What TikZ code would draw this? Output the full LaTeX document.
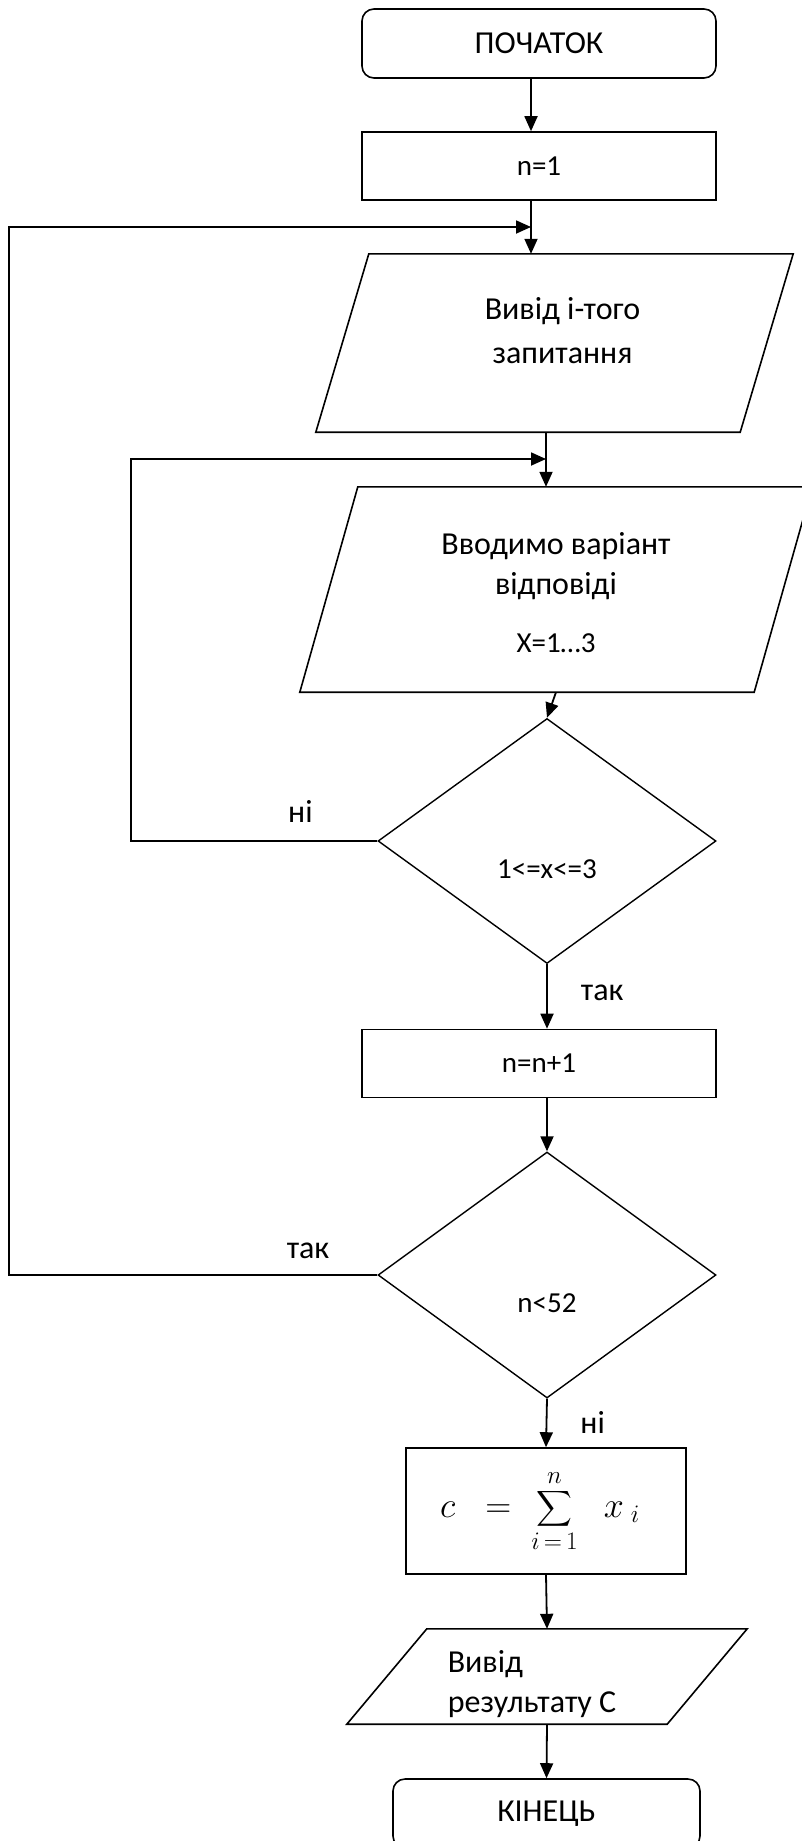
\RequirePackage{fix-cm}
\documentclass[tikz,border=0pt]{standalone}
\usepackage{exscale}
\usepackage[no-math]{fontspec}
\setmainfont{Carlito}
\usetikzlibrary{arrows.meta,shapes.geometric}

\begin{document}
\begin{tikzpicture}[x=1pt, y=-1pt,
        every node/.style={font=\fontsize{29}{36}\selectfont},
        cyr/.style={font=\fontsize{32}{40}\selectfont},
        term/.style={draw, rounded corners=12pt, line width=1.6pt,
            minimum width=354pt, minimum height=69pt, cyr},
        proc/.style={draw, line width=1.6pt, minimum width=354pt,
            minimum height=68pt},
        io/.style={inner sep=0pt, cyr},
        ioline/.style={line width=1.6pt, line join=miter},
        cond/.style={draw, diamond, line width=1.4pt, minimum width=338pt,
            minimum height=245pt, inner sep=0pt},
        flow/.style={line width=1.8pt, -{Triangle[length=15pt,width=13pt]}},
        lbl/.style={inner sep=3pt, cyr}]

\useasboundingbox (0,0) rectangle (801,1841);

\coordinate (j1) at (531,227);
\coordinate (j2) at (546,459);
\coordinate (lp1) at (131,459);
\coordinate (lp2) at (9,227);

\node[term] (start) at (539,43.5) {ПОЧАТОК};
\node[proc] (n1) at (539,166) {n=1};
\node[io, minimum width=424pt, minimum height=178pt] (p1) at (554.5,343)
    {\hspace*{16pt}\raisebox{10pt}[\height][\depth]{\begin{tabular}{@{}c@{}}Вивід і-того\\[4pt] запитання\end{tabular}}};
\node[io, minimum width=454pt, minimum height=205pt] (p2) at (556,589.5)
    {\raisebox{-6pt}[\height][\depth]{\begin{tabular}{@{}c@{}}Вводимо варіант\\ відповіді\\[18pt] \fontsize{29}{36}\selectfont X=1…3\end{tabular}}};
\node[cond] (c1) at (547,841) {\raisebox{-28pt}[\height][\depth]{1<=x<=3}};
\node[proc] (nn) at (539,1063.5) {n=n+1};
\node[cond, minimum height=246pt] (c2) at (547,1275) {\raisebox{-28pt}[\height][\depth]{n<52}};
\node[proc, minimum width=280pt, minimum height=126pt,
    font=\fontsize{36}{40}\selectfont] (sum) at (546,1511)
    {$c\;\;=\;\displaystyle\sum_{i\,=\,1}^{n}\;\;x_{\;i}$\hspace*{12pt}};
\node[io, minimum width=320pt, minimum height=95pt] (p3) at (547,1676.5)
    {\raisebox{-8pt}[\height][\depth]{\begin{tabular}{@{}l@{}}Вивід\\ результату С\end{tabular}}\hspace*{30pt}};
\node[term, minimum width=307pt] (fin) at (546.5,1813.5) {КІНЕЦЬ};

\draw[ioline] ([xshift=26.5pt]p1.north west) -- ([xshift=26.5pt]p1.north east)
    -- ([xshift=-26.5pt]p1.south east) -- ([xshift=-26.5pt]p1.south west) -- cycle;
\draw[ioline] ([xshift=29pt]p2.north west) -- ([xshift=29pt]p2.north east)
    -- ([xshift=-29pt]p2.south east) -- ([xshift=-29pt]p2.south west) -- cycle;
\draw[ioline] ([xshift=40pt]p3.north west) -- ([xshift=40pt]p3.north east)
    -- ([xshift=-40pt]p3.south east) -- ([xshift=-40pt]p3.south west) -- cycle;

\draw[flow] (start.south -| j1) -- (n1.north -| j1);
\draw[flow] (n1.south -| j1) -- (p1.north -| j1);
\draw[flow] (p1.south -| j2) -- (p2.north -| j2);
\draw[flow] (p2.south) -- (c1.north);
\draw[flow] (c1.south) -- node[lbl, pos=0.45, right=30pt] (yes1) {так} (nn.north -| c1.south);
\draw[flow] (c1.west) -| (lp1) node[lbl, pos=0.156, above=15pt] (no1) {ні} -- (j2);
\draw[flow] (nn.south -| c2.north) -- (c2.north);
\draw[flow] (c2.west) -| (lp2) node[lbl, pos=0.094, above=12pt] (yes2) {так} -- (j1);
\draw[flow] (c2.south) -- node[lbl, pos=0.48, right=30pt] (no2) {ні} (sum.north);
\draw[flow] (sum.south) -- (p3.north);
\draw[flow] (p3.south) -- (fin.north);
\end{tikzpicture}
\end{document}
